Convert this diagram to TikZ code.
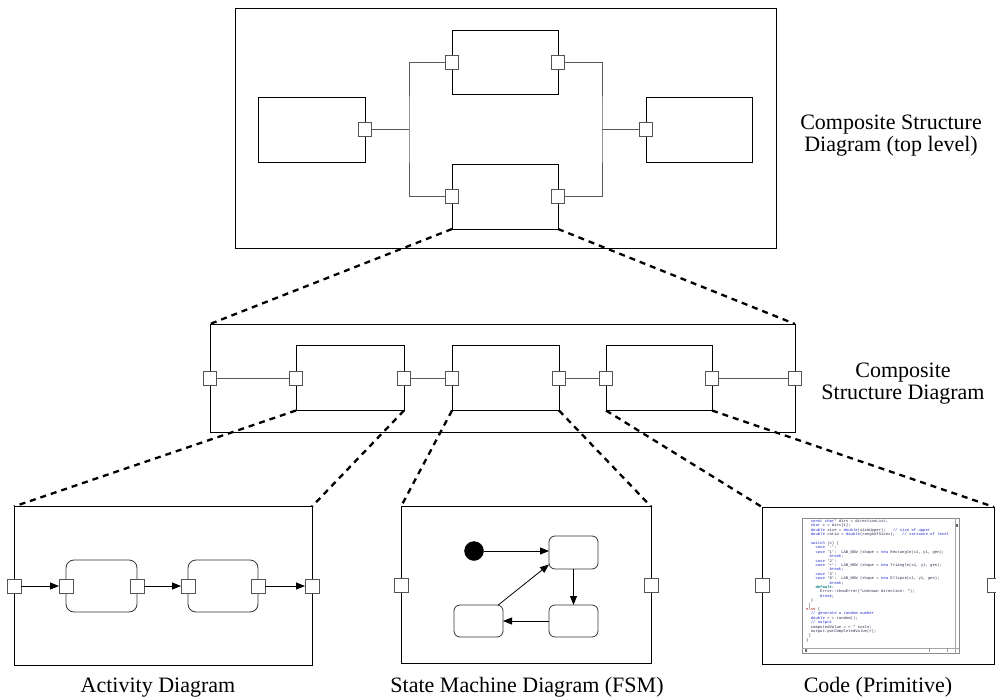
\documentclass[tikz,border=0pt]{standalone}
\usepackage{fontspec}
\setmainfont{Liberation Serif}
\newfontfamily\codefont{Liberation Mono}
\usetikzlibrary{arrows.meta}
\definecolor{wiregray}{gray}{0.35}
\definecolor{portgray}{gray}{0.33}
\definecolor{codeink}{RGB}{45,45,80}
\definecolor{kwblue}{RGB}{35,45,205}
\definecolor{kwteal}{RGB}{0,125,125}
\definecolor{kwred}{RGB}{175,25,25}
% helpers for the code listing
\newcommand\cind[1]{\hspace*{\dimexpr #1em*6/10\relax}}
\newcommand\kw[1]{\textcolor{kwblue}{#1}}
\newcommand\cm[1]{\textcolor{kwblue}{#1}}
\newcommand\tl[1]{\textcolor{kwteal}{\bfseries #1}}
\newcommand\el[1]{\textcolor{kwred}{#1}}
\begin{document}
\begin{tikzpicture}[x=1pt,y=-1pt,
  frame/.style={draw=black, line width=0.9pt, outer sep=0pt, inner sep=0pt},
  part/.style={draw=black, line width=0.8pt, outer sep=0pt, inner sep=0pt},
  port/.style={draw=portgray, fill=white, line width=0.8pt, minimum width=12.5pt, minimum height=14pt, inner sep=0pt, outer sep=0pt},
  bport/.style={port, minimum width=14pt, minimum height=14pt},
  wire/.style={draw=wiregray, line width=0.8pt},
  zoomline/.style={draw=black, line width=2.3pt, dash pattern=on 6pt off 5pt},
  flow/.style={draw=black, line width=0.8pt, -{Triangle[length=9pt,width=7pt]}},
  action/.style={draw=black!80, line width=0.8pt, rounded corners=8pt, outer sep=0pt, inner sep=0pt},
  state/.style={draw=black!80, line width=0.8pt, rounded corners=6pt, outer sep=0pt, inner sep=0pt, minimum width=49pt, minimum height=33pt},
  caption/.style={font=\fontsize{22}{22}\selectfont, align=center, inner sep=0pt},
  codetext/.style={font=\codefont\fontsize{3.9}{4.4}\selectfont, text=codeink, align=left, inner sep=0pt},
]
\useasboundingbox (0,0) rectangle (996,698);
\clip (0,0) rectangle (996,698);

% ---------------- top level composite structure ----------------
\node[frame, minimum width=541pt, minimum height=240pt] (top) at (505.5,128) {};
\node[part, minimum width=107pt, minimum height=65pt] (L) at (311.5,129.5) {};
\node[part, minimum width=106pt, minimum height=64pt] (T) at (505,62) {};
\node[part, minimum width=106pt, minimum height=65pt] (B) at (505,196.5) {};
\node[part, minimum width=106pt, minimum height=65pt] (R) at (699,129.5) {};
\coordinate (jl) at (409,129.5);
\coordinate (jr) at (602,129.5);
\draw[wire] (L.east) -- (jl);
\draw[wire] (T.west) -| (jl) |- (B.west);
\draw[wire] (T.east) -| (jr) |- (B.east);
\draw[wire] (jr) -- (R.west);
\node[port] (Lp) at (L.east) {};
\node[port] (Tl) at (T.west) {};
\node[port] (Tr) at (T.east) {};
\node[port] (Bl) at (B.west) {};
\node[port] (Br) at (B.east) {};
\node[port] (Rp) at (R.west) {};
\node[caption] (toplabel) at (891,136) {Composite Structure\\Diagram (top level)};

% ---------------- second level composite structure ----------------
\node[frame, minimum width=585pt, minimum height=108pt] (mid) at (502.5,378) {};
\node[part, minimum width=108pt, minimum height=65pt] (M1) at (350,378) {};
\node[part, minimum width=107pt, minimum height=65pt] (M2) at (505.5,378) {};
\node[part, minimum width=106pt, minimum height=65pt] (M3) at (659,378) {};
\draw[wire] (mid.west) -- (M1.west);
\draw[wire] (M1.east) -- (M2.west);
\draw[wire] (M2.east) -- (M3.west);
\draw[wire] (M3.east) -- (mid.east);
\node[port] (midl) at (mid.west) {};
\node[port] (M1l) at (M1.west) {};
\node[port] (M1r) at (M1.east) {};
\node[port] (M2l) at (M2.west) {};
\node[port] (M2r) at (M2.east) {};
\node[port] (M3l) at (M3.west) {};
\node[port] (M3r) at (M3.east) {};
\node[port] (midr) at (mid.east) {};
\node[caption] (midlabel) at (903,384) {Composite\\Structure Diagram};

% ---------------- activity diagram ----------------
\node[frame, minimum width=298pt, minimum height=159pt] (act) at (163,586) {};
\node[action, minimum width=71pt, minimum height=52pt] (A1) at (101.5,586) {};
\node[action, minimum width=70pt, minimum height=52pt] (A2) at (223,586) {};
\node[bport] (actl) at (act.west) {};
\node[bport] (A1l) at (A1.west) {};
\node[bport] (A1r) at (A1.east) {};
\node[bport] (A2l) at (A2.west) {};
\node[bport] (A2r) at (A2.east) {};
\node[bport] (actr) at (act.east) {};
\draw[flow] (actl.east) -- (A1l.west);
\draw[flow] (A1r.east) -- (A2l.west);
\draw[flow] (A2r.east) -- (actr.west);
\node[caption, anchor=base] (actlabel) at (158,692) {Activity Diagram};

% ---------------- state machine ----------------
\node[frame, minimum width=250pt, minimum height=157pt] (fsm) at (526,585) {};
\node[bport] (fsml) at (fsm.west) {};
\node[bport] (fsmr) at (fsm.east) {};
\node[circle, fill=black, draw=black, minimum size=19pt, inner sep=0pt] (init) at (474,551) {};
\node[state] (S1) at (573.5,552.5) {};
\node[state, minimum height=32pt] (S2) at (573.5,621) {};
\node[state, minimum height=32pt] (S3) at (478.5,621) {};
\draw[flow] (init.east) -- (init.east -| S1.west);
\draw[flow] (S1.south) -- (S2.north);
\draw[flow] (S2.west) -- (S3.east);
\draw[flow] (S3.39) -- (S1.206);
\node[caption, anchor=base] (fsmlabel) at (527,692) {State Machine Diagram (FSM)};

% ---------------- primitive code ----------------
\node[frame, minimum width=232pt, minimum height=157pt] (code) at (878,585.5) {};
\node[bport] (codel) at (code.west) {};
\node[bport] (coder) at (code.east) {};
% editor window with the listing
\node[draw=black!45, fill=white, line width=0.8pt, minimum width=157pt, minimum height=135pt, inner sep=0pt, outer sep=0pt] (editor) at (880.5,585.5) {};
\draw[black!35, line width=0.6pt] ([xshift=-4pt]editor.north east) -- ([xshift=-4pt]editor.south east);
\draw[black!35, line width=0.6pt] ([yshift=5pt]editor.south west) -- ([yshift=5pt]editor.south east);
\fill[black!60] ([xshift=-3pt,yshift=-6pt]editor.north east) rectangle ([xshift=-1.5pt,yshift=-9pt]editor.north east);
\fill[black!55] ([xshift=3pt,yshift=1.5pt]editor.south west) rectangle ([xshift=4.5pt,yshift=4pt]editor.south west);
\draw[black!40, line width=0.5pt] ([xshift=-30pt,yshift=1pt]editor.south east) -- ([xshift=-30pt,yshift=5pt]editor.south east);
\draw[black!40, line width=0.5pt] ([xshift=-12pt,yshift=1pt]editor.south east) -- ([xshift=-12pt,yshift=5pt]editor.south east);
\node[codetext, anchor=north west] (listing) at (806,519.5) {%
\cind{2}\kw{const char}* dirs = directionList;\\
\cind{2}\kw{char} c = dirs[i];\\
\cind{2}\kw{double} size = \kw{double}(sizeUpper);\ \ \ \cm{// size of upper}\\
\cind{2}\kw{double} ratio = \kw{double}(rangeOfSizes);\ \ \ \cm{// variance of level}\\
\mbox{}\\
\cind{2}\kw{switch} (c) \{\\
\cind{4}\kw{case} '-':\\
\cind{4}\kw{case} '1':\ \ LAB\_NEW (shape = \kw{new} Rectangle(x1, y1, gen);\\
\cind{10}\kw{break};\\
\cind{4}\kw{case} '2':\\
\cind{4}\kw{case} '+':\ \ LAB\_NEW (shape = \kw{new} Triangle(x1, y1, gen);\\
\cind{10}\kw{break};\\
\cind{4}\kw{case} '3':\\
\cind{4}\kw{case} '0':\ \ LAB\_NEW (shape = \kw{new} Ellipse(x1, y1, gen);\\
\cind{10}\kw{break};\\
\cind{4}\tl{default}:\\
\cind{6}Error::showError("unknown direction: ");\\
\cind{6}\kw{break};\\
\cind{2}\}\\
\cind{1}\}\\
\el{else} \{\\
\cind{2}\cm{// generate a random number}\\
\cind{2}\kw{double} r = random();\\
\cind{2}\cm{// output}\\
\cind{2}computedValue = r * scale;\\
\cind{2}output.putCompletedValue(r);\\
\cind{1}\}\\
\}
};
\node[caption, anchor=base] (codelabel) at (878,692) {Code (Primitive)};

% ---------------- zoom-in guides ----------------
\draw[zoomline] (B.south west) -- (mid.north west);
\draw[zoomline] (B.south east) -- (mid.north east);
\draw[zoomline] (M1.south west) -- (act.north west);
\draw[zoomline] (M1.south east) -- (act.north east);
\draw[zoomline] (M2.south west) -- (fsm.north west);
\draw[zoomline] (M2.south east) -- (fsm.north east);
\draw[zoomline] (M3.south west) -- (code.north west);
\draw[zoomline] (M3.south east) -- (code.north east);
\end{tikzpicture}
\end{document}
